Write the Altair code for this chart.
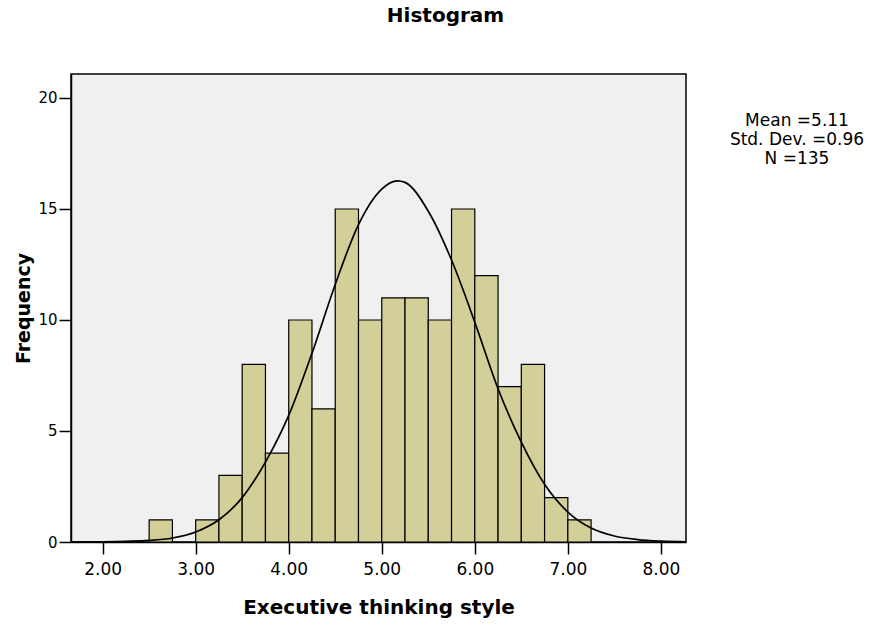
import altair as alt
import pandas as pd

# Histogram bins (lower edge, upper edge) and counts
bin_start = [2.50, 3.00, 3.25, 3.50, 3.75, 4.00, 4.25, 4.50, 4.75, 5.00,
             5.25, 5.50, 5.75, 6.00, 6.25, 6.50, 6.75, 7.00]
bin_end = [2.75, 3.25, 3.50, 3.75, 4.00, 4.25, 4.50, 4.75, 5.00, 5.25,
           5.50, 5.75, 6.00, 6.25, 6.50, 6.75, 7.00, 7.25]
counts = [1, 1, 3, 8, 4, 10, 6, 15, 10, 11, 11, 10, 15, 12, 7, 8, 2, 1]

# Normal curve
curve_x = [1.66, 2.00, 2.25, 2.50, 2.75, 3.00, 3.25, 3.50, 3.75, 4.00, 4.25,
           4.50, 4.75, 5.00, 5.17, 5.25, 5.50, 5.75, 6.00, 6.25, 6.50, 6.75,
           7.00, 7.25, 7.50, 7.75, 8.00, 8.27]
curve_y = [0.00, 0.01, 0.03, 0.07, 0.18, 0.45, 1.00, 2.00, 3.60, 5.70, 8.50,
           11.6, 14.3, 15.9, 16.27, 16.2, 14.9, 12.7, 9.9, 6.9, 4.5, 2.6,
           1.35, 0.63, 0.27, 0.11, 0.04, 0.01]

stats_lines = ["Mean =5.11", "Std. Dev. =0.96", "N =135"]

x_ticks = [2, 3, 4, 5, 6, 7, 8]
y_ticks = [0, 5, 10, 15, 20]

FONT = "DejaVu Sans"
W, H = 615, 468

bars_df = pd.DataFrame({"start": bin_start, "end": bin_end, "count": counts})
curve_df = pd.DataFrame({"x": curve_x, "y": curve_y})
stats_df = pd.DataFrame({"line": stats_lines, "i": list(range(len(stats_lines)))})

xscale = alt.Scale(domain=[1.66, 8.27], nice=False, zero=False)
yscale = alt.Scale(domain=[0, 21.08], nice=False)

xaxis = alt.Axis(values=x_ticks, format=".2f", title="Executive thinking style",
                 grid=False, tickSize=12, tickColor="black", tickWidth=1.5,
                 domainColor="black", domainWidth=1.5,
                 labelFont=FONT, labelFontSize=17, labelColor="black", labelPadding=7,
                 titleFont=FONT, titleFontSize=20, titleFontWeight="bold", titleColor="black",
                 titleY=65, titleBaseline="middle")
yaxis = alt.Axis(values=y_ticks, format="d", title="Frequency",
                 grid=False, tickSize=12, tickColor="black", tickWidth=1.5,
                 domainColor="black", domainWidth=1.5,
                 labelFont=FONT, labelFontSize=15, labelColor="black", labelPadding=2,
                 titleFont=FONT, titleFontSize=19, titleFontWeight="bold", titleColor="black",
                 titleX=-48, titleBaseline="middle", titleAngle=-90)

bars = alt.Chart(bars_df).mark_rect(
    fill="#D3CF98", stroke="black", strokeWidth=1.2
).encode(
    x=alt.X("start:Q", scale=xscale, axis=xaxis),
    x2="end:Q",
    y=alt.Y("count:Q", scale=yscale, axis=yaxis),
    y2=alt.datum(0),
)

curve = alt.Chart(curve_df).mark_line(
    color="black", strokeWidth=1.7, interpolate="monotone", clip=True
).encode(
    x=alt.X("x:Q", scale=xscale),
    y=alt.Y("y:Q", scale=yscale),
)

stats = alt.Chart(stats_df).mark_text(
    font=FONT, fontSize=17, color="black", align="center", baseline="middle"
).encode(
    x=alt.value(726),
    y=alt.Y("i:Q", scale=alt.Scale(domain=[0, 1], range=[47, 66]), axis=None),
    text="line:N",
)

main = alt.layer(bars, curve)

chart = alt.layer(main, stats).resolve_scale(y="independent").properties(
    width=W, height=H,
    autosize=alt.AutoSizeParams(type="none"),
    padding={"left": 71, "top": 74, "right": 873 - 71 - W, "bottom": 626 - 74 - H},
    title=alt.TitleParams("Histogram", font=FONT, fontSize=20, fontWeight="bold",
                          color="black", anchor="middle", dx=67, offset=48),
).configure(
    background="white",
    view=alt.ViewConfig(fill="#F0F0F0", stroke="black", strokeWidth=1.5),
)

chart.save("out.html", embed_options={"renderer": "svg", "actions": False})
